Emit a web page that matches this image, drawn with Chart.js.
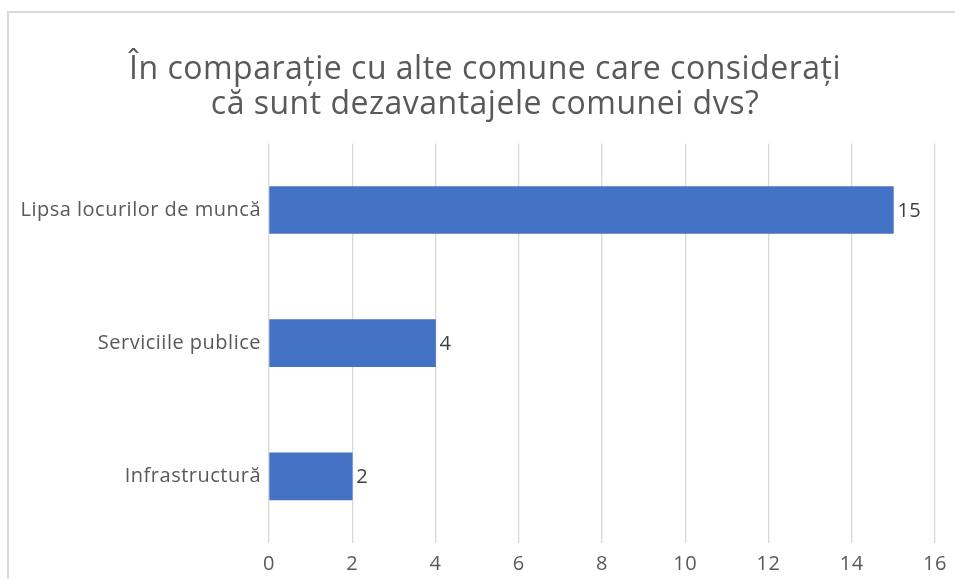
<!DOCTYPE html>
<html>
<head>
<meta charset="utf-8">
<script src="https://cdn.jsdelivr.net/npm/chart.js@4/dist/chart.umd.min.js"></script>
<style>
  html, body { margin: 0; padding: 0; overflow: hidden; background: #fff; }
  #wrap { position: relative; width: 955px; height: 579px; overflow: hidden; }
  #frame { position: absolute; left: 7px; top: 11px; width: 1000px; height: 1000px;
           border-left: 2px solid #d9d9d9; border-top: 2px solid #d9d9d9; }
  canvas { position: absolute; left: 0; top: 0; }
</style>
</head>
<body>
<div id="wrap">
  <div id="frame"></div>
  <canvas id="myChart" width="975" height="579"></canvas>
</div>
<script>
var titleLines = ['În comparație cu alte comune care considerați', 'că sunt dezavantajele comunei dvs?'];
var categories = ['Lipsa locurilor de muncă', 'Serviciile publice', 'Infrastructură'];
var values = [15, 4, 2];
var xMin = 0, xMax = 16, xStep = 2;

// a bit wider letter spacing, like the original
var spacing = {
  id: 'spacing',
  beforeLayout: function(chart) { chart.ctx.letterSpacing = '0.5px'; },
  beforeDraw: function(chart) { chart.ctx.letterSpacing = '0.5px'; }
};

// labels at the end of each bar
var valueLabels = {
  id: 'valueLabels',
  afterDatasetsDraw: function(chart) {
    var ctx = chart.ctx;
    var meta = chart.getDatasetMeta(0);
    ctx.save();
    ctx.font = '20px "Open Sans"';
    ctx.fillStyle = '#404040';
    ctx.textAlign = 'left';
    ctx.textBaseline = 'middle';
    meta.data.forEach(function(bar, i) {
      ctx.fillText(values[i], bar.x + 4, bar.y + 1);
    });
    ctx.restore();
  }
};

var ctx = document.getElementById('myChart').getContext('2d');
var myChart = new Chart(ctx, {
  type: 'bar',
  data: {
    labels: categories,
    datasets: [{
      data: values,
      backgroundColor: '#4472c4',
      barThickness: 47
    }]
  },
  options: {
    indexAxis: 'y',
    responsive: false,
    animation: false,
    layout: { padding: { left: 35, right: 40, top: 52, bottom: 0 } },
    plugins: {
      legend: { display: false },
      tooltip: { enabled: false },
      title: {
        display: true,
        text: titleLines,
        color: '#595959',
        font: { family: '"Open Sans"', size: 32, weight: 'normal', lineHeight: 1.1 },
        padding: { top: 0, bottom: 21 }
      }
    },
    scales: {
      x: {
        min: xMin,
        max: xMax,
        ticks: {
          stepSize: xStep,
          color: '#595959',
          font: { family: '"Open Sans"', size: 20 },
          padding: 9
        },
        grid: { color: '#d9d9d9', lineWidth: 1.3, drawTicks: false },
        border: { display: false },
        afterFit: function(scale) { scale.height = 36; }
      },
      y: {
        ticks: {
          color: '#595959',
          font: { family: '"Open Sans"', size: 20 },
          padding: 8
        },
        grid: { display: false, drawTicks: false },
        border: { display: false },
        afterFit: function(scale) {
          scale.width = 234;
          // long category label reaches past the axis box, don't clip it
          scale._computeLabelArea = function() { return undefined; };
        }
      }
    }
  },
  plugins: [spacing, valueLabels]
});
</script>
</body>
</html>
